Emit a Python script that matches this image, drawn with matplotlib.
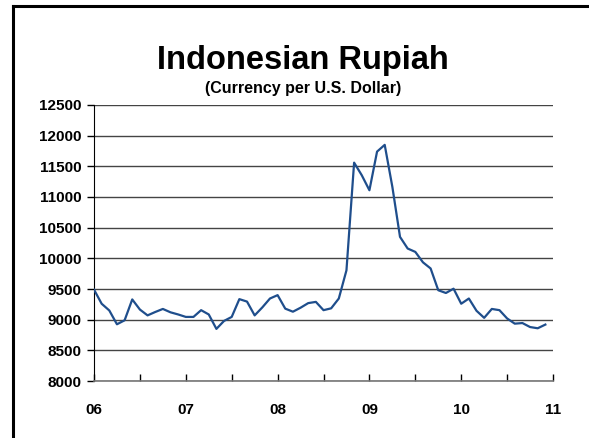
import numpy as np
import matplotlib
matplotlib.use('Agg')
import matplotlib.pyplot as plt
from matplotlib.lines import Line2D

# Monthly rupiah per US dollar, Jan 2006 - Dec 2010
rupiah = [
    9490, 9260, 9150, 8925, 8990, 9330, 9165, 9070, 9125, 9175, 9120, 9085,
    9045, 9045, 9155, 9085, 8850, 8980, 9045, 9335, 9295, 9070, 9200, 9345,
    9400, 9180, 9130, 9195, 9270, 9290, 9155, 9185, 9345, 9805, 11560, 11355,
    11110, 11740, 11850, 11165, 10350, 10160, 10105, 9935, 9835, 9480, 9435, 9505,
    9260, 9345, 9145, 9030, 9175, 9155, 9020, 8935, 8945, 8880, 8860, 8920,
]
year_labels = ['06', '07', '08', '09', '10', '11']
first_year = 2006

plt.rcParams['font.family'] = ['Liberation Sans', 'DejaVu Sans']
plt.rcParams['font.weight'] = 'bold'

fig = plt.figure(figsize=(5.89, 4.38), dpi=100)
ax = fig.add_axes([0.1596, 0.1301, 0.7793, 0.6302])

x = first_year + np.arange(len(rupiah)) / 12.0
ax.plot(x, rupiah, color='#1f4e8c', lw=1.6, zorder=3)

ax.set_xlim(first_year, first_year + len(year_labels) - 1)
ax.set_ylim(8000, 12500)
ax.set_yticks(np.arange(8000, 12501, 500))
ax.set_xticks(first_year + np.arange(len(year_labels)))
ax.set_xticklabels(year_labels)
ax.set_xticks(first_year + 0.5 + np.arange(len(year_labels) - 1), minor=True)

ax.yaxis.grid(True, color='#444444', lw=1.0)
ax.set_axisbelow(True)
for s in ['top', 'right']:
    ax.spines[s].set_visible(False)
ax.spines['left'].set_color('black')
ax.spines['bottom'].set_color('#777777')
ax.spines['bottom'].set_linewidth(1.2)

ax.tick_params(axis='y', direction='out', length=5, width=1, labelsize=11, pad=4)
ax.tick_params(axis='x', which='both', direction='in', length=5, width=1,
               labelsize=11, pad=16, color='black')
for lab in ax.get_xticklabels() + ax.get_yticklabels():
    lab.set_fontweight('bold')

fig.text(0.515, 0.862, 'Indonesian Rupiah', ha='center', va='center',
         fontsize=23.5, fontweight='bold')
fig.text(0.515, 0.797, '(Currency per U.S. Dollar)', ha='center', va='center',
         fontsize=11.5, fontweight='bold')

# frame around the chart (cut off at right and bottom)
fig.add_artist(Line2D([12.5 / 589, 1.0], [1 - 6 / 438, 1 - 6 / 438],
                      transform=fig.transFigure, color='black', lw=2.2))
fig.add_artist(Line2D([12.5 / 589, 12.5 / 589], [0.0, 1 - 6 / 438],
                      transform=fig.transFigure, color='black', lw=2.2))

fig.savefig('out.png', dpi=100)
